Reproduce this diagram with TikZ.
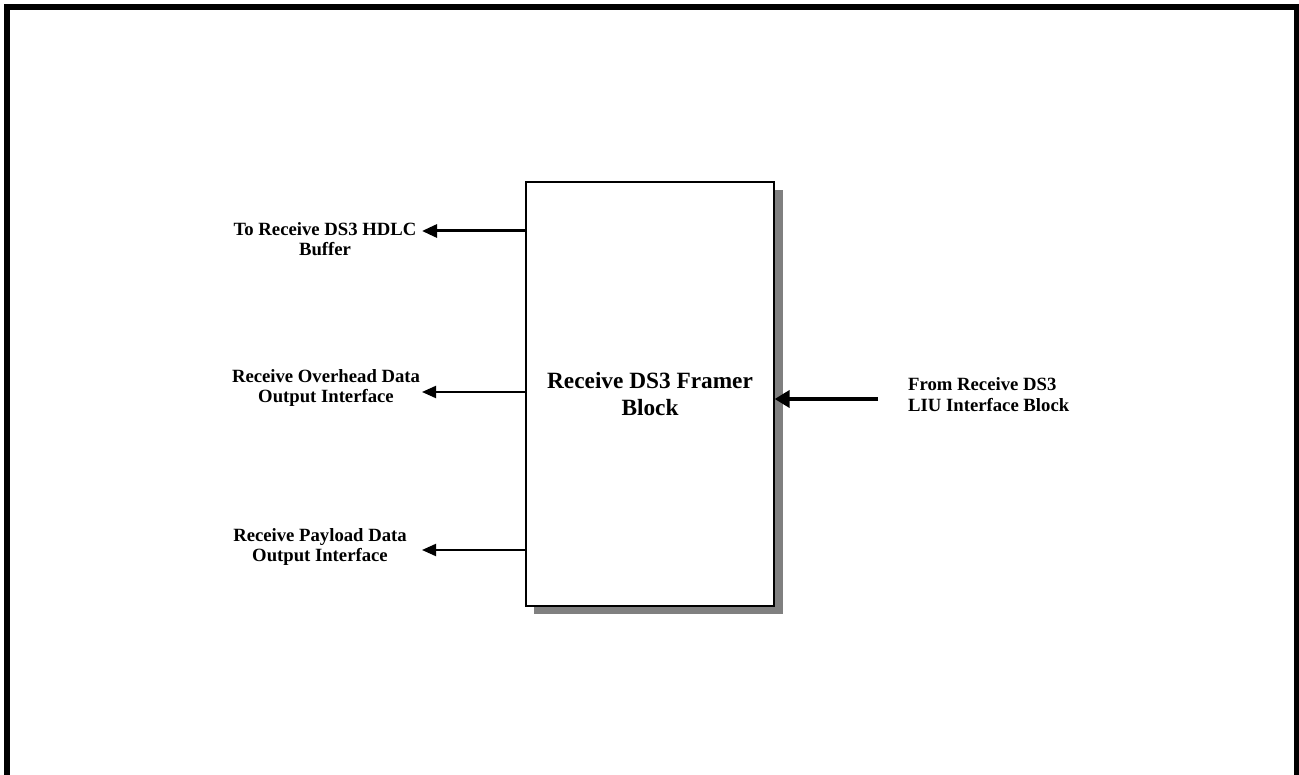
\documentclass[tikz,border=0pt]{standalone}
\usepackage{fontspec}
\setmainfont{Liberation Serif}
\usetikzlibrary{arrows.meta}
\begin{document}
\begin{tikzpicture}[x=1pt,y=-1pt,
  lbl/.style={font=\bfseries\fontsize{18.7}{20}\selectfont, align=center, inner sep=0pt},
  rlbl/.style={font=\bfseries\fontsize{18.7}{21}\selectfont, align=left, inner sep=0pt},
  arrthick/.style={line width=3pt, -{Triangle[length=15pt,width=13pt]}},
  arrthin/.style={line width=2pt, -{Triangle[length=14pt,width=12pt]}},
  arrbig/.style={line width=4pt, -{Triangle[length=15pt,width=17pt]}},
  blockbox/.style={draw=black, line width=1.3pt, fill=white, minimum width=248pt, minimum height=424pt, inner sep=0pt,
    font=\bfseries\fontsize{23.3}{27}\selectfont, align=center}
]
\useasboundingbox (0,0) rectangle (1299,775);
% frame
\draw[line width=6pt] (7,775) -- (7,7) -- (1294,7);
\draw[line width=5pt] (1296.5,4) -- (1296.5,775);
% shadow
\fill[black!50] (534,190) rectangle (783,614);
% main block
\node[blockbox] (box) at (650,394) {Receive DS3 Framer\\Block};
% arrow end points
\coordinate (t1) at (422,231);
\coordinate (t2) at (422,392);
\coordinate (t3) at (422,550);
\coordinate (s4) at (878,399);
% connectors
\draw[arrthick] (box.west |- t1) -- (t1);
\draw[arrthin] (box.west |- t2) -- (t2);
\draw[arrthin] (box.west |- t3) -- (t3);
\draw[arrbig] (s4) -- (box.east |- s4);
% labels
\node[lbl] (l1) at (325,239) {To Receive DS3 HDLC\\Buffer};
\node[lbl] (l2) at (326,388) {Receive Overhead Data\\Output Interface};
\node[lbl] (l3) at (320,547) {Receive Payload Data\\Output Interface};
\node[rlbl, anchor=west] (l4) at (908,395) {From Receive DS3\\LIU Interface Block};
\end{tikzpicture}
\end{document}
